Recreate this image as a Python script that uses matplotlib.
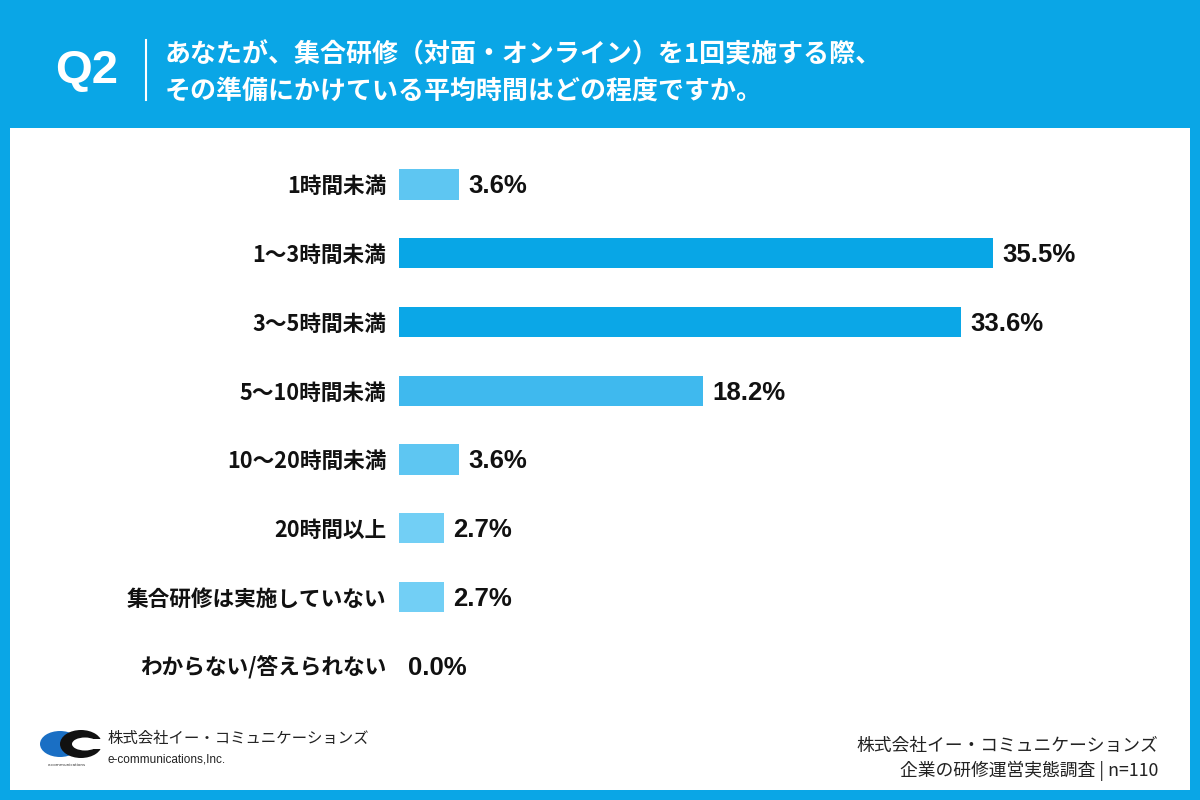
import matplotlib
matplotlib.use("Agg")
import matplotlib.pyplot as plt
from matplotlib import patches

plt.rcParams['font.family'] = ['Noto Sans CJK JP', 'DejaVu Sans']

categories = ["1時間未満", "1〜3時間未満", "3〜5時間未満", "5〜10時間未満",
              "10〜20時間未満", "20時間以上", "集合研修は実施していない", "わからない/答えられない"]
values = [3.6, 35.5, 33.6, 18.2, 3.6, 2.7, 2.7, 0.0]
bar_colors = ["#5ec6f2", "#08a6e6", "#0ba7e7", "#3fb9ee", "#5ec6f2", "#72cff5", "#72cff5", "#72cff5"]

title_q = "Q2"
title_lines = ["あなたが、集合研修（対面・オンライン）を1回実施する際、",
               "その準備にかけている平均時間はどの程度ですか。"]
company = "株式会社イー・コミュニケーションズ"
company_en = "e-communications,Inc."
source_lines = ["株式会社イー・コミュニケーションズ", "企業の研修運営実態調査 | n=110"]

BLUE = "#0aa6e6"

fig = plt.figure(figsize=(12, 8), dpi=100)
fig.patch.set_facecolor(BLUE)

# background / decorations in pixel coords
bg = fig.add_axes([0, 0, 1, 1])
bg.set_xlim(0, 1200)
bg.set_ylim(800, 0)
bg.axis("off")
bg.add_patch(patches.Rectangle((10, 128), 1180, 662, facecolor="white", edgecolor="none"))

bg.text(87, 71, title_q, color="white", fontsize=34, fontweight="bold",
        ha="center", va="center", family=["Liberation Sans"])
bg.plot([146, 146], [40, 100], color="white", lw=1.5)
bg.text(165, 55, title_lines[0], color="white", fontsize=18.7, fontweight="bold", va="center")
bg.text(165, 91, title_lines[1], color="white", fontsize=18.7, fontweight="bold", va="center")

# logo
bg.add_patch(patches.Ellipse((60, 744), 40, 26, facecolor="#1a6fc4", edgecolor="none"))
bg.add_patch(patches.Ellipse((81, 744), 42, 28, facecolor="#111111", edgecolor="none"))
bg.add_patch(patches.Ellipse((85, 744), 26, 13, facecolor="white", edgecolor="none"))
bg.add_patch(patches.Rectangle((90, 739), 14, 10, facecolor="white", edgecolor="none"))
bg.text(67, 765, "e-communications", fontsize=3, color="#333333", ha="center", va="center",
        family=["DejaVu Sans"])
bg.text(108, 739, company, fontsize=11.1, color="#222222", va="center")
bg.text(108, 759, company_en, fontsize=8.5, color="#222222", va="center", family=["Liberation Sans"])

bg.text(1158, 746, source_lines[0], fontsize=12.8, color="#222222", ha="right", va="center")
bg.text(1158, 771, source_lines[1], fontsize=12.8, color="#222222", ha="right", va="center")

# bar chart
ax = fig.add_axes([399 / 1200, 0.125, 669 / 1200, 550 / 800])
ax.set_facecolor("none")
pos = list(range(len(categories)))
ax.barh(pos, values, height=0.44, color=bar_colors)
ax.set_xlim(0, 40)
ax.set_ylim(len(categories) - 0.5, -0.5)
for p, v in zip(pos, values):
    ax.text(v + 0.55, p + 0.03, f"{v:.1f}%", fontsize=18.5, fontweight="bold",
            color="#111111", va="center", ha="left", family=["Liberation Sans"])
ax.set_yticks(pos)
ax.set_yticklabels(categories, fontsize=15.6, fontweight="bold", color="#111111")
ax.tick_params(axis="y", length=0, pad=9)
ax.set_xticks([])
for s in ax.spines.values():
    s.set_visible(False)

fig.savefig("out.png", dpi=100, facecolor=BLUE)
